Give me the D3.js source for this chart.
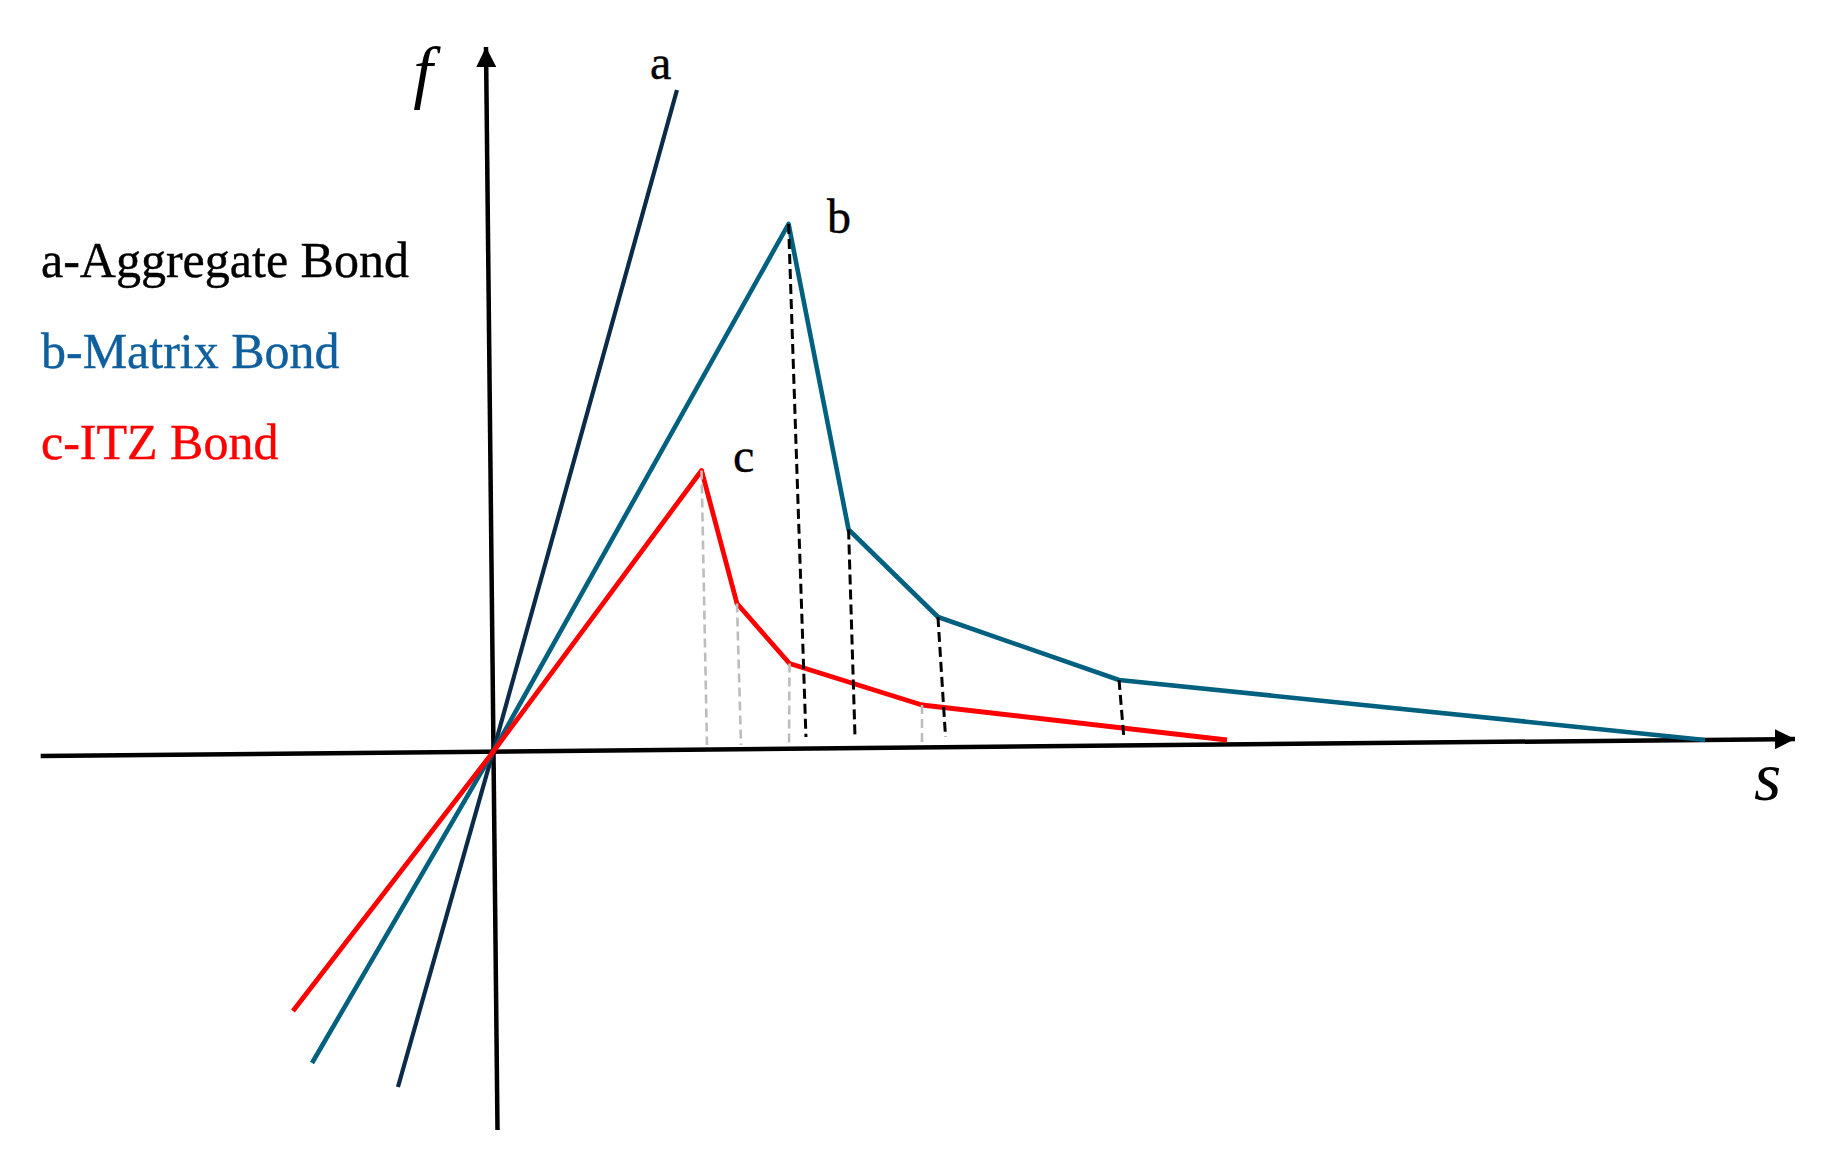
<!DOCTYPE html>
<html>
<head>
<meta charset="utf-8">
<script src="https://cdn.jsdelivr.net/npm/d3@7"></script>
<style>
  html, body { margin: 0; padding: 0; background: #fff; }
  svg { display: block; }
</style>
</head>
<body>
<svg id="chart" width="1824" height="1161"></svg>
<script>
// ---- DATA (s = slip, f = bond stress; arbitrary units) ----
const seriesNames = ["a", "b", "c"];
const legendLabels = ["a-Aggregate Bond", "b-Matrix Bond", "c-ITZ Bond"];
const axisLabels = { y: "f", x: "s" };

// curve a: aggregate bond (straight line through origin)
const curveA_s = [-7.92, 0, 15.33];
const curveA_f = [-33.5, 0, 66.2];
// curve b: matrix bond
const curveB_s = [-15.08, 0, 24.63, 29.63, 37.08, 52.17, 101.0];
const curveB_f = [-31.1, 0, 52.8, 22.25, 13.5, 7.2, 1.2];
// curve c: ITZ bond
const curveC_s = [-16.67, 0, 17.38, 20.33, 24.71, 35.75, 61.17];
const curveC_f = [-25.9, 0, 28.15, 14.85, 8.85, 4.7, 1.2];

// dashed drop lines from the vertices of b (black) and c (grey) to the s axis
const dropB_foot_s = [26.08, 30.17, 37.71, 52.58];
const dropB_foot_f = [1.5, 1.4, 1.5, 1.3];
const dropB_vertex = [2, 3, 4, 5];
const dropC_foot_s = [17.83, 20.67, 24.67, 35.75];
const dropC_foot_f = [0.7, 0.7, 0.7, 0.9];
const dropC_vertex = [2, 3, 4, 5];

// hand-drawn axes (end points)
const sAxis_s = [-37.69, 108.5];
const sAxis_f = [-0.4, 1.3];
const fAxis_s = [0.375, -0.583];
const fAxis_f = [-37.8, 70.5];

// ---- SCALES ----
const x = d3.scaleLinear().domain([0, 100]).range([493, 1693]);
const y = d3.scaleLinear().domain([0, 60]).range([752, 152]);

const svg = d3.select("#chart");
const zip = (ss, ff) => ss.map((s, i) => ({ s, f: ff[i] }));
const line = d3.line().x(d => x(d.s)).y(d => y(d.f));

// arrow marker
const defs = svg.append("defs");
defs.append("marker")
  .attr("id", "arrow")
  .attr("markerUnits", "userSpaceOnUse")
  .attr("viewBox", "0 0 20 20")
  .attr("refX", 20).attr("refY", 10)
  .attr("markerWidth", 20).attr("markerHeight", 20)
  .attr("orient", "auto")
  .append("path").attr("d", "M0,0 L20,10 L0,20 Z").attr("fill", "#000");

// axes
svg.append("path").datum(zip(sAxis_s, sAxis_f))
  .attr("d", line).attr("stroke", "#000").attr("stroke-width", 4.5)
  .attr("fill", "none").attr("marker-end", "url(#arrow)");
svg.append("path").datum(zip(fAxis_s, fAxis_f))
  .attr("d", line).attr("stroke", "#000").attr("stroke-width", 4.5)
  .attr("fill", "none").attr("marker-end", "url(#arrow)");

// curves
const curves = [
  { name: "a", pts: zip(curveA_s, curveA_f), color: "#0c2b48", w: 4.2 },
  { name: "b", pts: zip(curveB_s, curveB_f), color: "#00607f", w: 4.6 },
  { name: "c", pts: zip(curveC_s, curveC_f), color: "#ff0000", w: 4.8 }
];
svg.selectAll("path.curve").data(curves).join("path")
  .attr("class", "curve")
  .attr("d", d => line(d.pts))
  .attr("stroke", d => d.color)
  .attr("stroke-width", d => d.w)
  .attr("stroke-linejoin", "round")
  .attr("fill", "none");

// drop lines
const bPts = curves[1].pts, cPts = curves[2].pts;
const dropsC = dropC_vertex.map((vi, i) => [cPts[vi], { s: dropC_foot_s[i], f: dropC_foot_f[i] }]);
const dropsB = dropB_vertex.map((vi, i) => [bPts[vi], { s: dropB_foot_s[i], f: dropB_foot_f[i] }]);
svg.selectAll("path.dropc").data(dropsC).join("path")
  .attr("class", "dropc")
  .attr("d", line).attr("stroke", "#bdbdbd").attr("stroke-width", 2.6)
  .attr("stroke-dasharray", "9,5").attr("fill", "none");
svg.selectAll("path.dropb").data(dropsB).join("path")
  .attr("class", "dropb")
  .attr("d", line).attr("stroke", "#000").attr("stroke-width", 3)
  .attr("stroke-dasharray", "10,5").attr("fill", "none");

// series labels
const labelPos = [[650, 79], [827, 233], [733, 472]];
svg.selectAll("text.slabel").data(seriesNames).join("text")
  .attr("class", "slabel")
  .attr("x", (d, i) => labelPos[i][0]).attr("y", (d, i) => labelPos[i][1])
  .attr("font-family", "Liberation Serif, Times New Roman, serif")
  .attr("font-size", 48).attr("fill", "#000")
  .attr("stroke", "#000").attr("stroke-width", 0.4)
  .text(d => d);

// legend
const legendColors = ["#000000", "#0f5f9e", "#ff0000"];
const legendY = [277, 368, 459];
svg.selectAll("text.legend").data(legendLabels).join("text")
  .attr("class", "legend")
  .attr("x", 41).attr("y", (d, i) => legendY[i])
  .attr("font-family", "Liberation Serif, Times New Roman, serif")
  .attr("font-size", 50)
  .attr("fill", (d, i) => legendColors[i])
  .attr("stroke", (d, i) => legendColors[i]).attr("stroke-width", 0.4)
  .text(d => d);

// axis labels
svg.append("text").attr("x", 423).attr("y", 95)
  .attr("text-anchor", "middle")
  .attr("font-family", "Liberation Serif, Times New Roman, serif")
  .attr("font-style", "italic").attr("font-size", 70)
  .text(axisLabels.y);
svg.append("text").attr("x", 1754).attr("y", 800)
  .attr("font-family", "Liberation Serif, Times New Roman, serif")
  .attr("font-style", "italic").attr("font-size", 70)
  .text(axisLabels.x);
</script>
</body>
</html>
